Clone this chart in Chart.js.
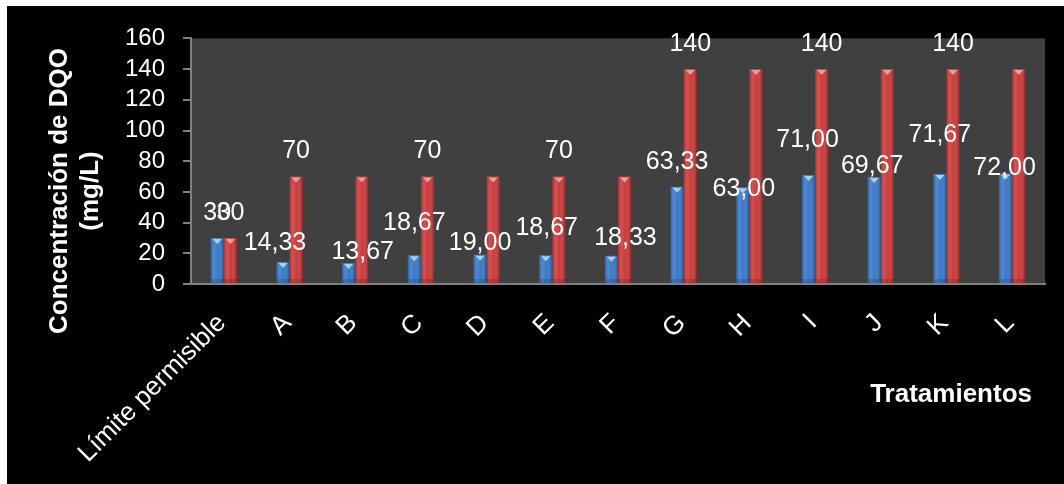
<!DOCTYPE html>
<html lang="es">
<head>
  <meta charset="UTF-8">
  <title>Concentración de DQO</title>
  <style>
    body {
      margin: 0;
      padding: 0;
      background-color: #fff;
    }
    #wrap {
      position: absolute;
      left: 7px;
      top: 6px;
      width: 1057px;
      height: 478px;
      background-color: #000;
    }
  </style>
  <script src="https://cdn.jsdelivr.net/npm/chart.js"></script>
</head>
<body>
  <div id="wrap">
    <canvas id="dqoChart" width="1057" height="478"></canvas>
  </div>
  <script>
    const categories = ['Límite permisible', 'A', 'B', 'C', 'D', 'E', 'F', 'G', 'H', 'I', 'J', 'K', 'L'];
    const serieAzul = [30, 14.33, 13.67, 18.67, 19.00, 18.67, 18.33, 63.33, 63.00, 71.00, 69.67, 71.67, 72.00];
    const serieRoja = [30, 70, 70, 70, 70, 70, 70, 140, 140, 140, 140, 140, 140];
    const yTicks = [0, 20, 40, 60, 80, 100, 120, 140, 160];

    // label placement tweaks so the numbers don't collide
    const azulShiftX = [0, -8, 14, 0, 0, 1, 14, 0, 1, -1, -2, 0, -1];
    const azulShiftY = [-25, -19, -11, -32, -12, -27, -18, -25, 2, -35, -11, -39, -5];
    const rojaOculta = [2, 4, 6, 8, 10, 12];

    const FONT = '"Liberation Sans", Arial, sans-serif';

    function fmt(v, dec) {
      return v.toFixed(dec).replace('.', ',');
    }

    // dark plot background
    const plotBg = {
      id: 'plotBg',
      beforeDraw(chart) {
        const { ctx, chartArea: a } = chart;
        ctx.save();
        ctx.fillStyle = '#404040';
        ctx.fillRect(a.left, a.top, a.right - a.left, a.bottom - a.top);
        ctx.restore();
      }
    };

    // cylinder-ish shading + light cap on every bar
    const barShade = {
      id: 'barShade',
      afterDatasetDraw(chart, args) {
        const ctx = chart.ctx;
        const cap = args.index === 0 ? '#9fd3f5' : '#f39a9a';
        args.meta.data.forEach(bar => {
          const { x, y, base, width } = bar.getProps(['x', 'y', 'base', 'width']);
          const l = x - width / 2;
          const g = ctx.createLinearGradient(l, 0, l + width, 0);
          g.addColorStop(0, 'rgba(0,0,0,0.18)');
          g.addColorStop(0.25, 'rgba(255,255,255,0.12)');
          g.addColorStop(0.55, 'rgba(255,255,255,0.0)');
          g.addColorStop(1, 'rgba(0,0,0,0.32)');
          ctx.save();
          ctx.fillStyle = g;
          ctx.fillRect(l, y, width, base - y);
          ctx.fillStyle = cap;
          ctx.beginPath();
          ctx.moveTo(l + 2, y + 1);
          ctx.lineTo(l + width - 2, y + 1);
          ctx.lineTo(x, y + 6);
          ctx.closePath();
          ctx.fill();
          ctx.fillStyle = 'rgba(0,0,0,0.15)';
          ctx.fillRect(l, base - 4, width, 4);
          ctx.restore();
        });
      }
    };

    // value labels above the bars
    const valueLabels = {
      id: 'valueLabels',
      afterDatasetsDraw(chart) {
        const ctx = chart.ctx;
        ctx.save();
        ctx.font = '25px ' + FONT;
        ctx.fillStyle = '#fff';
        ctx.textAlign = 'center';
        ctx.textBaseline = 'middle';
        chart.getDatasetMeta(0).data.forEach((bar, i) => {
          const dec = i === 0 ? 0 : 2;
          ctx.fillText(fmt(serieAzul[i], dec), bar.x + azulShiftX[i], bar.y + azulShiftY[i]);
        });
        chart.getDatasetMeta(1).data.forEach((bar, i) => {
          if (rojaOculta.includes(i)) return;
          ctx.fillText(fmt(serieRoja[i], 0), bar.x, bar.y - 25);
        });
        ctx.restore();
      }
    };

    // axis titles
    const axisTitles = {
      id: 'axisTitles',
      afterDraw(chart) {
        const ctx = chart.ctx;
        ctx.save();
        ctx.fillStyle = '#fff';
        ctx.font = 'bold 26px ' + FONT;
        ctx.textBaseline = 'middle';
        ctx.textAlign = 'center';
        ctx.translate(0, 185);
        ctx.rotate(-Math.PI / 2);
        ctx.fillText('Concentración de DQO', 0, 53);
        ctx.fillText('(mg/L)', 0, 84);
        ctx.restore();
        ctx.save();
        ctx.fillStyle = '#fff';
        ctx.font = 'bold 26px ' + FONT;
        ctx.textBaseline = 'middle';
        ctx.textAlign = 'right';
        ctx.fillText('Tratamientos', 1025, 389);
        ctx.restore();
      }
    };

    const ctx = document.getElementById('dqoChart').getContext('2d');
    new Chart(ctx, {
      type: 'bar',
      data: {
        labels: categories,
        datasets: [
          { data: serieAzul, backgroundColor: '#3b79c9', borderWidth: 0 },
          { data: serieRoja, backgroundColor: '#cc3b3b', borderWidth: 0 }
        ]
      },
      options: {
        responsive: false,
        animation: false,
        events: [],
        categoryPercentage: 0.4,
        barPercentage: 1.0,
        layout: { padding: { top: 29, right: 19, left: 0, bottom: 0 } },
        plugins: {
          legend: { display: false },
          tooltip: { enabled: false }
        },
        scales: {
          x: {
            grid: { drawOnChartArea: false, drawTicks: false },
            border: { color: '#808080', width: 2 },
            ticks: {
              color: '#fff',
              font: { family: FONT, size: 26 },
              minRotation: 45,
              maxRotation: 45,
              autoSkip: false,
              padding: 24,
              labelOffset: -2
            },
            afterFit(scale) { scale.height = 200; }
          },
          y: {
            min: 0,
            max: 160,
            afterBuildTicks(scale) { scale.ticks = yTicks.map(v => ({ value: v })); },
            grid: { drawOnChartArea: false, drawTicks: true, tickLength: 8, color: '#808080', lineWidth: 2 },
            border: { color: '#808080', width: 2 },
            ticks: {
              color: '#fff',
              font: { family: FONT, size: 24 },
              padding: 18,
              autoSkip: false
            },
            afterFit(scale) { scale.width = 184; }
          }
        }
      },
      plugins: [plotBg, barShade, valueLabels, axisTitles]
    });
  </script>
</body>
</html>
